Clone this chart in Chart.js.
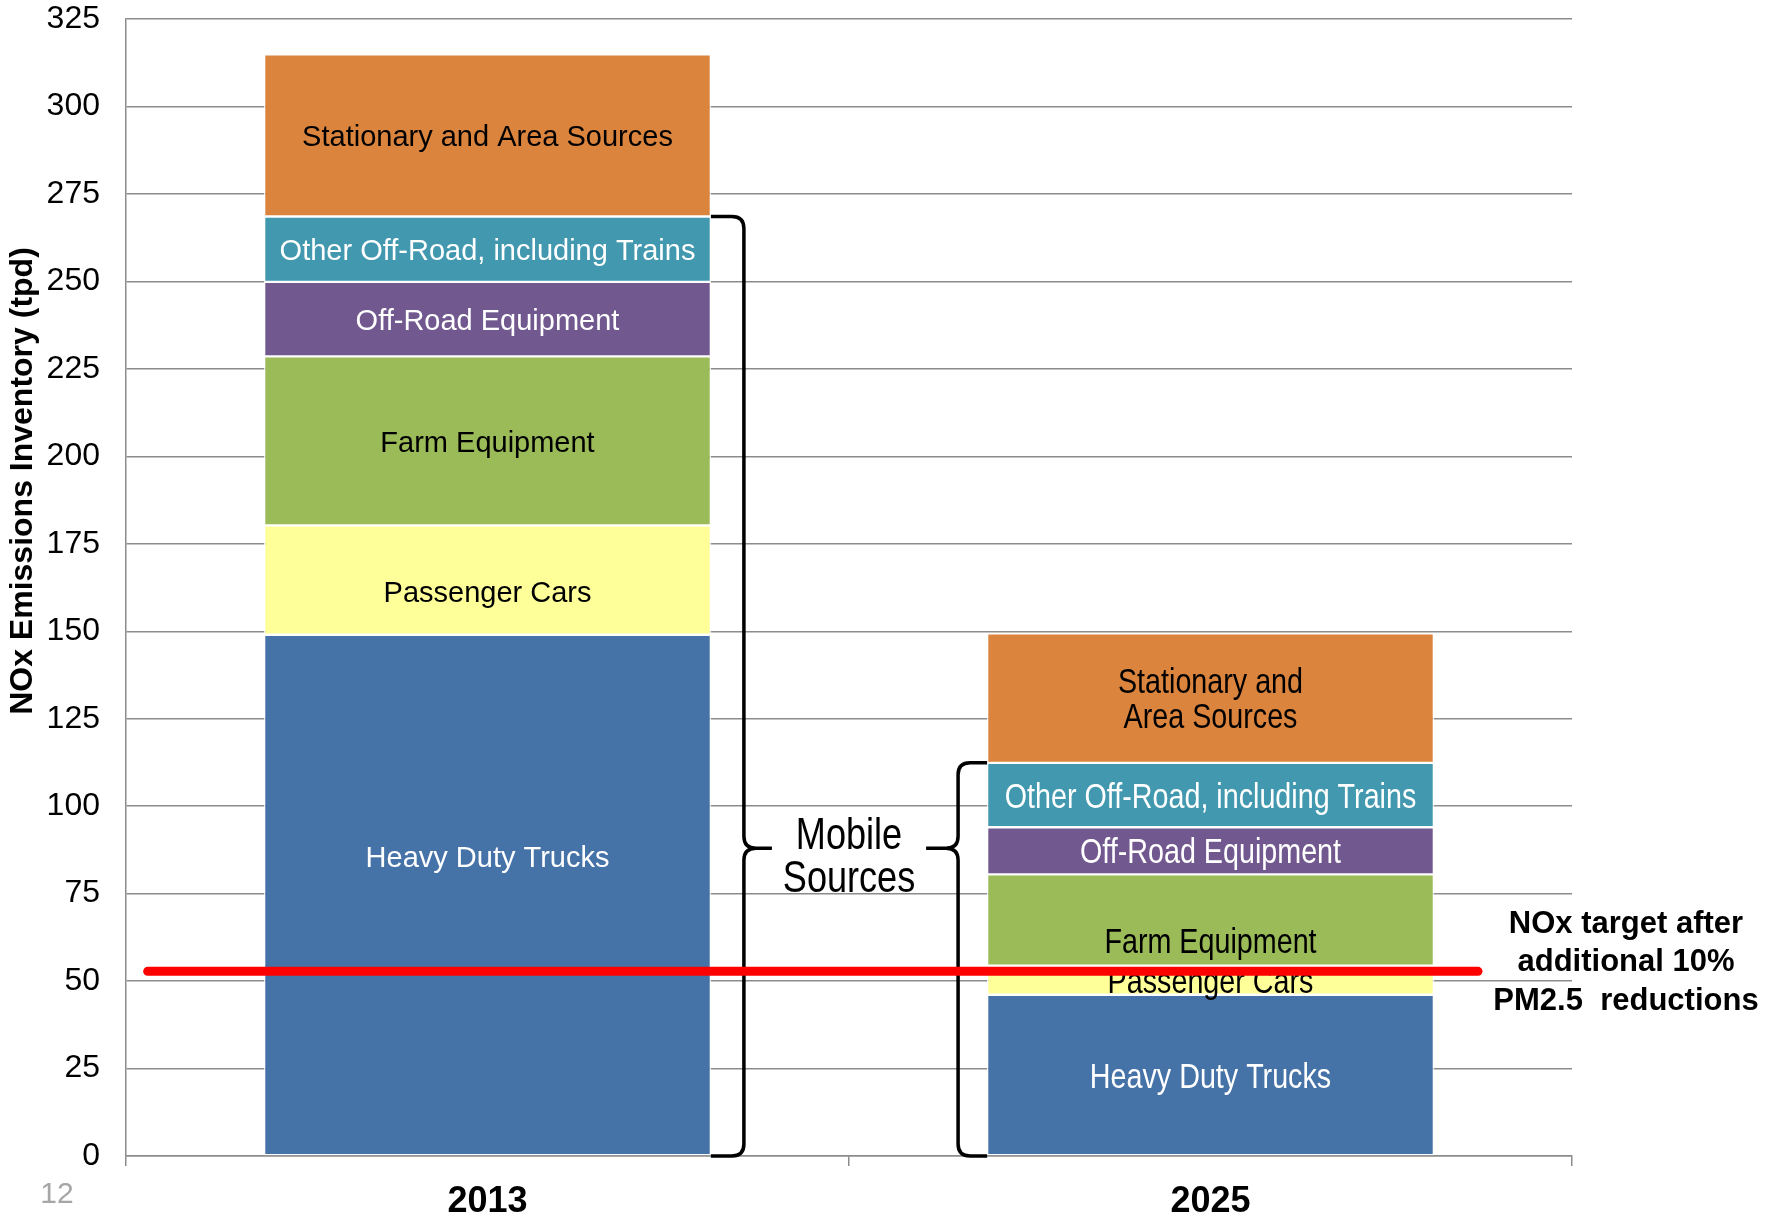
<!DOCTYPE html>
<html>
<head>
<meta charset="utf-8">
<script src="https://cdn.jsdelivr.net/npm/chart.js@4.4.1/dist/chart.umd.min.js"></script>
<style>
  html, body { margin: 0; padding: 0; background: #fff; }
</style>
</head>
<body>
<canvas id="grafico" width="1767" height="1218"></canvas>
<script>
// Datos (tpd de NOx)
const anios = ["2013", "2025"];
const fuentes = ["Heavy Duty Trucks", "Passenger Cars", "Farm Equipment", "Off-Road Equipment",
  "Other Off-Road, including Trains", "Stationary and Area Sources"];
const camiones = [149, 46.1];
const autos = [31.3, 8.3];
const agricola = [48.3, 26.1];
const equipoOffRoad = [21.3, 13.5];
const otrosOffRoad = [18.7, 18.4];
const estacionarias = [46.4, 37];
const metaNOx = 52.8;
const metaDesde = -0.47;   // en unidades de categoría
const metaHasta = 1.37;
const posMoviles = 86;     // valor donde va el texto "Mobile Sources"
const puntaLlave = 88;

const colores = ["#4572A7", "#FFFF99", "#9BBB59", "#71588F", "#4198AF", "#DB843D"];
const colorTexto = ["#fff", "#000", "#000", "#fff", "#fff", "#000"];
// etiquetas del 2025 (la de estacionarias va en dos líneas)
const etiquetas2025 = ["Heavy Duty Trucks", "Passenger Cars", "Farm Equipment", "Off-Road Equipment",
  "Other Off-Road, including Trains", "Stationary and\nArea Sources"];
// corrimientos verticales de algunas etiquetas (px)
const corrimientos = [
  { 0: -39, 1: 11 },
  { 2: 20 }
];

const FUENTE = "'Liberation Sans', Arial, sans-serif";
Chart.defaults.font.family = FUENTE;

const series = [camiones, autos, agricola, equipoOffRoad, otrosOffRoad, estacionarias];

function textoAngosto(ctx, txt, x, y, escala) {
  ctx.save();
  ctx.translate(x, y);
  ctx.scale(escala, 1);
  ctx.fillText(txt, 0, 0);
  ctx.restore();
}

function llave(ctx, x0, xl, xt, top, bot, tip) {
  const d = Math.sign(xl - x0);
  const r = 12;
  ctx.beginPath();
  ctx.moveTo(x0, top);
  ctx.lineTo(xl - d * r, top);
  ctx.quadraticCurveTo(xl, top, xl, top + r);
  ctx.lineTo(xl, tip - r);
  ctx.quadraticCurveTo(xl, tip, xl + d * r, tip);
  ctx.lineTo(xt, tip);
  ctx.moveTo(xl + d * r, tip);
  ctx.quadraticCurveTo(xl, tip, xl, tip + r);
  ctx.lineTo(xl, bot - r);
  ctx.quadraticCurveTo(xl, bot, xl - d * r, bot);
  ctx.lineTo(x0, bot);
  ctx.stroke();
}

const dibujosPlugin = {
  id: 'dibujos',
  beforeDatasetDraw(chart, args) {
    if (args.meta.type !== 'line') return;
    const ctx = chart.ctx;
    const y = chart.scales.y;

    // etiquetas dentro de las barras
    ctx.save();
    ctx.textAlign = 'center';
    ctx.textBaseline = 'middle';
    series.forEach((s, i) => {
      const meta = chart.getDatasetMeta(i);
      meta.data.forEach((bar, j) => {
        const p = bar.getProps(['x', 'y', 'base'], true);
        const yc = (p.y + p.base) / 2 + 3 + (corrimientos[j][i] || 0);
        ctx.fillStyle = colorTexto[i];
        if (j === 0) {
          ctx.font = '29px ' + FUENTE;
          ctx.fillText(fuentes[i], p.x, yc);
        } else {
          ctx.font = '35px ' + FUENTE;
          const lineas = etiquetas2025[i].split('\n');
          lineas.forEach((l, k) => {
            textoAngosto(ctx, l, p.x, yc + (k - (lineas.length - 1) / 2) * 35, 0.82);
          });
        }
      });
    });

    // llaves de fuentes móviles
    ctx.strokeStyle = '#000';
    ctx.lineWidth = 3.5;
    const b0 = chart.getDatasetMeta(0).data[0].getProps(['x', 'width'], true);
    const b1 = chart.getDatasetMeta(0).data[1].getProps(['x', 'width'], true);
    const movil = j => camiones[j] + autos[j] + agricola[j] + equipoOffRoad[j] + otrosOffRoad[j];
    const tip = y.getPixelForValue(puntaLlave);
    const xa = b0.x + b0.width / 2;
    llave(ctx, xa, xa + 33, xa + 61, y.getPixelForValue(movil(0)), y.getPixelForValue(0), tip);
    const xb = b1.x - b1.width / 2;
    llave(ctx, xb, xb - 29, xb - 61, y.getPixelForValue(movil(1)), y.getPixelForValue(0), tip);

    ctx.fillStyle = '#000';
    ctx.font = '44px ' + FUENTE;
    const xm = (b0.x + b1.x) / 2;
    const ym = y.getPixelForValue(posMoviles) + 3;
    textoAngosto(ctx, 'Mobile', xm, ym - 21, 0.82);
    textoAngosto(ctx, 'Sources', xm, ym + 22, 0.82);
    ctx.restore();
  },
  afterDraw(chart) {
    const ctx = chart.ctx;
    ctx.save();
    ctx.fillStyle = '#000';
    ctx.textAlign = 'center';
    ctx.textBaseline = 'middle';
    // título del eje Y
    ctx.font = 'bold 32px ' + FUENTE;
    ctx.translate(23, 481);
    ctx.rotate(-Math.PI / 2);
    ctx.fillText('NOx Emissions Inventory (tpd)', 0, 0);
    ctx.restore();

    ctx.save();
    ctx.textAlign = 'center';
    ctx.textBaseline = 'middle';
    ctx.fillStyle = '#000';
    ctx.font = 'bold 31px ' + FUENTE;
    ['NOx target after', 'additional 10%', 'PM2.5  reductions'].forEach((l, k) => {
      ctx.fillText(l, 1626, 924 + k * 38.5);
    });
    ctx.fillStyle = '#a6a6a6';
    ctx.font = '30px ' + FUENTE;
    ctx.fillText('12', 57, 1195);
    ctx.restore();
  }
};

const datasets = series.map((s, i) => ({
  label: fuentes[i],
  data: s,
  backgroundColor: colores[i],
  borderColor: '#fff',
  borderWidth: 1.2,
  borderSkipped: false,
  grouped: false,
  categoryPercentage: 1,
  barPercentage: 0.618
}));

datasets.push({
  type: 'line',
  label: 'Meta NOx',
  data: [{ x: metaDesde, y: metaNOx }, { x: metaHasta, y: metaNOx }],
  xAxisID: 'xLinea',
  stack: 'meta',
  borderColor: '#FF0000',
  borderWidth: 9,
  borderCapStyle: 'round',
  pointRadius: 0,
  fill: false,
  order: -1
});

new Chart(document.getElementById('grafico'), {
  type: 'bar',
  data: { labels: anios, datasets },
  options: {
    responsive: false,
    devicePixelRatio: 1,
    animation: false,
    layout: { padding: { top: 0, right: 195, left: 0, bottom: 0 } },
    plugins: { legend: { display: false }, tooltip: { enabled: false } },
    scales: {
      x: {
        stacked: true,
        offset: true,
        grid: { drawOnChartArea: false, drawTicks: true, tickLength: 10, color: '#8c8c8c', lineWidth: 1.5, offset: true },
        border: { color: '#8c8c8c', width: 1.5 },
        ticks: { color: '#000', padding: 14, font: { size: 36, weight: 'bold' } },
        afterFit(s) { s.height = 62; }
      },
      xLinea: { type: 'linear', min: -0.5, max: 1.5, offset: false, display: false },
      y: {
        stacked: true,
        min: 0,
        max: 325,
        ticks: { stepSize: 25, color: '#000', padding: 0, font: { size: 32 } },
        grid: { color: '#8c8c8c', lineWidth: 1.5, drawTicks: true, tickLength: 26, tickColor: 'rgba(0,0,0,0)' },
        border: { color: '#8c8c8c', width: 1.5 },
        afterFit(s) { s.width = 126; }
      }
    }
  },
  plugins: [dibujosPlugin]
});
</script>
</body>
</html>
